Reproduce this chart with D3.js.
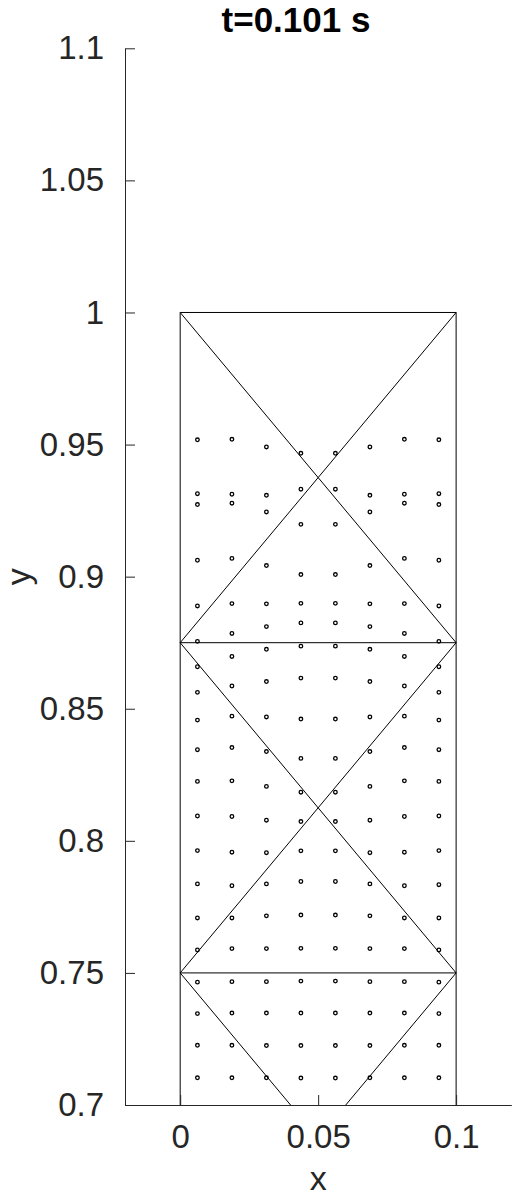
<!DOCTYPE html>
<html lang="en">
<head>
    <meta charset="UTF-8">
    <title>t=0.101 s</title>
    <style>
        body {
            margin: 0;
            background: #fff;
        }
        .tick text {
            font-family: "Liberation Sans", Arial, sans-serif;
            font-size: 33px;
            fill: #262626;
        }
        .domain, .tick line {
            stroke: #262626;
        }
    </style>
    <script src="https://cdn.jsdelivr.net/npm/d3@7"></script>
</head>
<body>
<svg id="chart" width="519" height="1198"></svg>
<script>
    // axis ticks
    const xTicks = [0, 0.05, 0.1];
    const yTicks = [0.7, 0.75, 0.8, 0.85, 0.9, 0.95, 1, 1.05, 1.1];

    // mesh edges [x1, y1, x2, y2]
    const meshEdges = [
        [0, 1, 0.1, 1],
        [0, 0.6, 0, 1],
        [0.1, 0.6, 0.1, 1],
        [0, 0.875, 0.1, 0.875],
        [0, 0.75, 0.1, 0.75],
        [0, 1, 0.1, 0.875],
        [0.1, 1, 0, 0.875],
        [0, 0.875, 0.1, 0.75],
        [0.1, 0.875, 0, 0.75],
        [0, 0.75, 0.1, 0.625],
        [0.1, 0.75, 0, 0.625]
    ];

    // particle columns (x) and rows (y per column)
    const particleX = [0.00625, 0.01875, 0.03125, 0.04375, 0.05625, 0.06875, 0.08125, 0.09375];
    const particleRows = [
        [0.9518, 0.9520, 0.9491, 0.9467, 0.9467, 0.9491, 0.9520, 0.9518],
        [0.9314, 0.9312, 0.9308, 0.9331, 0.9331, 0.9308, 0.9312, 0.9314],
        [0.9273, 0.9278, 0.9245, 0.9198, 0.9198, 0.9245, 0.9278, 0.9273],
        [0.9062, 0.9069, 0.9042, 0.9008, 0.9008, 0.9042, 0.9069, 0.9062],
        [0.8889, 0.8898, 0.8897, 0.8899, 0.8899, 0.8897, 0.8898, 0.8889],
        [0.8755, 0.8785, 0.8811, 0.8825, 0.8825, 0.8811, 0.8785, 0.8755],
        [0.8659, 0.8698, 0.8725, 0.8737, 0.8737, 0.8725, 0.8698, 0.8659],
        [0.8562, 0.8586, 0.8603, 0.8616, 0.8616, 0.8603, 0.8586, 0.8562],
        [0.8457, 0.8472, 0.8469, 0.8461, 0.8461, 0.8469, 0.8472, 0.8457],
        [0.8345, 0.8353, 0.8338, 0.8312, 0.8312, 0.8338, 0.8353, 0.8345],
        [0.8225, 0.8227, 0.8206, 0.8184, 0.8184, 0.8206, 0.8227, 0.8225],
        [0.8094, 0.8092, 0.8078, 0.8073, 0.8073, 0.8078, 0.8092, 0.8094],
        [0.7963, 0.7957, 0.7955, 0.7962, 0.7962, 0.7955, 0.7957, 0.7963],
        [0.7837, 0.7830, 0.7837, 0.7846, 0.7846, 0.7837, 0.7830, 0.7834],
        [0.7708, 0.7708, 0.7716, 0.7719, 0.7719, 0.7716, 0.7708, 0.7708],
        [0.7587, 0.7592, 0.7592, 0.7593, 0.7593, 0.7592, 0.7592, 0.7587],
        [0.7465, 0.7467, 0.7467, 0.7469, 0.7469, 0.7467, 0.7467, 0.7465],
        [0.7346, 0.7348, 0.7348, 0.7348, 0.7348, 0.7348, 0.7348, 0.7346],
        [0.7226, 0.7226, 0.7225, 0.7225, 0.7225, 0.7225, 0.7226, 0.7226],
        [0.7103, 0.7103, 0.7103, 0.7102, 0.7102, 0.7103, 0.7103, 0.7103]
    ];

    const svg = d3.select("#chart");
    const plotLeft = 125, plotRight = 511.3, plotTop = 48.3, plotBottom = 1105;

    const x = d3.scaleLinear().domain([-0.02, 0.12]).range([plotLeft, plotRight]);
    const y = d3.scaleLinear().domain([0.7, 1.1]).range([plotBottom, plotTop]);

    svg.append("clipPath").attr("id", "plotClip")
        .append("rect")
        .attr("x", plotLeft).attr("y", plotTop)
        .attr("width", plotRight - plotLeft).attr("height", plotBottom - plotTop);

    const plot = svg.append("g").attr("clip-path", "url(#plotClip)");

    // mesh
    plot.selectAll("line.edge")
        .data(meshEdges)
        .enter().append("line")
        .attr("class", "edge")
        .attr("x1", d => x(d[0])).attr("y1", d => y(d[1]))
        .attr("x2", d => x(d[2])).attr("y2", d => y(d[3]))
        .attr("stroke", "#000")
        .attr("stroke-width", 1);

    // particles
    const pts = [];
    particleRows.forEach(row => row.forEach((v, i) => pts.push([particleX[i], v])));
    plot.selectAll("circle")
        .data(pts)
        .enter().append("circle")
        .attr("cx", d => x(d[0]))
        .attr("cy", d => y(d[1]))
        .attr("r", 1.8)
        .attr("fill", "none")
        .attr("stroke", "#000")
        .attr("stroke-width", 1.3);

    // axes, ticks pointing inward
    svg.append("g")
        .attr("transform", "translate(0," + plotBottom + ")")
        .call(d3.axisBottom(x).tickValues(xTicks).tickFormat(d3.format("~g"))
            .tickSizeInner(-10).tickSizeOuter(0).tickPadding(20));

    svg.append("g")
        .attr("transform", "translate(" + plotLeft + ",0)")
        .call(d3.axisLeft(y).tickValues(yTicks).tickFormat(d3.format("~g"))
            .tickSizeInner(-10).tickSizeOuter(0).tickPadding(21));

    // labels
    svg.append("text")
        .attr("x", x(0.05)).attr("y", 1190)
        .attr("text-anchor", "middle")
        .style("font-family", "Liberation Sans, Arial, sans-serif")
        .style("font-size", "34px")
        .style("fill", "#262626")
        .text("x");

    svg.append("text")
        .attr("transform", "translate(30," + (plotTop + plotBottom) / 2 + ") rotate(-90)")
        .attr("text-anchor", "middle")
        .style("font-family", "Liberation Sans, Arial, sans-serif")
        .style("font-size", "34px")
        .style("fill", "#262626")
        .text("y");

    svg.append("text")
        .attr("x", 296).attr("y", 32)
        .attr("text-anchor", "middle")
        .style("font-family", "Liberation Sans, Arial, sans-serif")
        .style("font-size", "35px")
        .style("font-weight", "bold")
        .style("fill", "#000")
        .text("t=0.101 s");
</script>
</body>
</html>
